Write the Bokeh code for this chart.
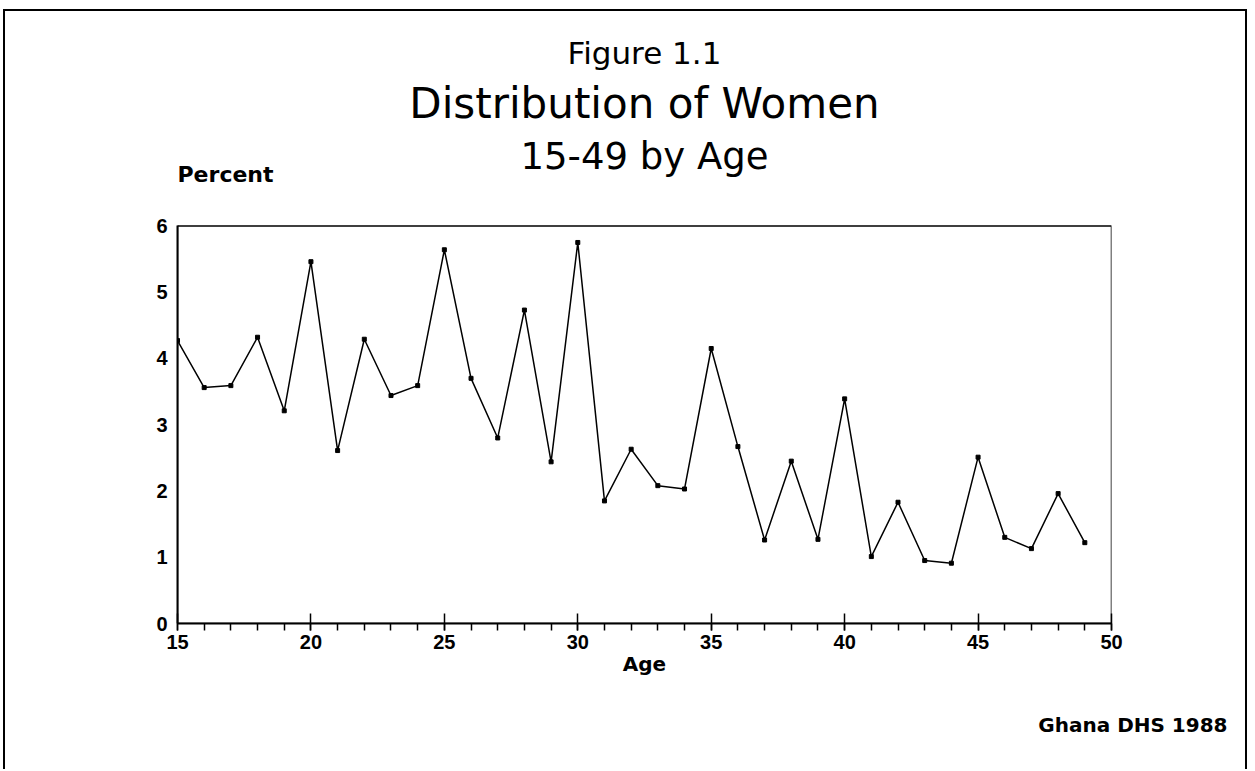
from bokeh.plotting import figure
from bokeh.models import Range1d, SingleIntervalTicker, FixedTicker, Label, Title, BoxAnnotation
from bokeh.embed import file_html
from bokeh.resources import INLINE

ages = list(range(15, 50))
percent = [4.27, 3.56, 3.59, 4.32, 3.21, 5.46, 2.61, 4.29, 3.44, 3.59,
           5.64, 3.70, 2.80, 4.73, 2.44, 5.75, 1.85, 2.63, 2.08, 2.03,
           4.15, 2.67, 1.26, 2.45, 1.27, 3.39, 1.01, 1.83, 0.95, 0.91,
           2.51, 1.30, 1.13, 1.96, 1.22]
x_min, x_max = 15, 50
y_min, y_max = 0, 6
y_ticks = [0, 1, 2, 3, 4, 5, 6]
title_lines = ["Figure 1.1", "Distribution of Women", "15-49 by Age"]
y_label = "Percent"
x_label = "Age"
source_note = "Ghana DHS 1988"

# the frame extends above the data box so that the headings sit inside it
p = figure(width=1244, height=760, output_backend="svg", toolbar_location=None,
           x_range=Range1d(x_min, x_max), y_range=Range1d(y_min, 9.1),
           min_border_left=172, min_border_right=138,
           min_border_top=9, min_border_bottom=148)
p.styles = {"margin-left": "3px", "margin-top": "9px",
            "border-top": "2px solid black", "border-left": "2px solid black",
            "border-right": "2px solid black"}
p.background_fill_color = "white"
p.border_fill_color = "white"
p.outline_line_color = None
p.grid.visible = False

p.add_layout(BoxAnnotation(left=x_min, right=x_max, bottom=y_min, top=y_max,
                           fill_color=None, fill_alpha=0,
                           line_color="black", line_alpha=1.0, line_width=1.5))

p.xaxis.ticker = SingleIntervalTicker(interval=5, num_minor_ticks=5)
p.yaxis.ticker = FixedTicker(ticks=y_ticks)
p.yaxis.bounds = (y_min, y_max)
for ax in (p.xaxis, p.yaxis):
    ax.axis_line_color = "black"
    ax.axis_line_width = 2
    ax.major_label_text_font = "Liberation Sans"
    ax.major_label_text_font_style = "bold"
    ax.major_label_text_font_size = "20px"
    ax.major_label_text_color = "black"
    ax.major_tick_line_color = "black"
    ax.minor_tick_line_color = "black"
    ax.major_tick_line_width = 1.5
    ax.minor_tick_line_width = 1.5

p.xaxis.major_tick_in = 10
p.xaxis.major_tick_out = 7
p.xaxis.minor_tick_in = 0
p.xaxis.minor_tick_out = 7
p.xaxis.major_label_standoff = 4
p.xaxis.axis_label = x_label
p.xaxis.axis_label_text_font = "DejaVu Sans"
p.xaxis.axis_label_text_font_style = "bold"
p.xaxis.axis_label_text_font_size = "20px"
p.xaxis.axis_label_text_color = "black"
p.xaxis.axis_label_standoff = 0

p.yaxis.major_tick_in = 0
p.yaxis.major_tick_out = 0
p.yaxis.minor_tick_in = 0
p.yaxis.minor_tick_out = 0
p.yaxis.major_label_standoff = 10

p.line(ages, percent, line_color="black", line_width=1.5)
p.scatter(ages, percent, marker="square", size=4, color="black")

title_y = [8.61, 7.84, 7.05]
title_sizes = ["31px", "42px", "37px"]
for txt, yy, fs in zip(title_lines, title_y, title_sizes):
    p.add_layout(Label(x=(x_min + x_max) / 2, y=yy, text=txt, text_align="center",
                       text_baseline="middle", text_font="DejaVu Sans",
                       text_font_size=fs, text_color="black"))

p.add_layout(Label(x=x_min, y=6.78, text=y_label, text_align="left",
                   text_baseline="middle", text_font="DejaVu Sans",
                   text_font_style="bold", text_font_size="22px",
                   text_color="black"))

p.add_layout(Title(text=source_note, align="right", offset=-116,
                   vertical_align="middle", standoff=66,
                   text_font="DejaVu Sans", text_font_style="bold",
                   text_font_size="20px", text_color="black"), "below")

open("out.html", "w").write(file_html(p, INLINE))
